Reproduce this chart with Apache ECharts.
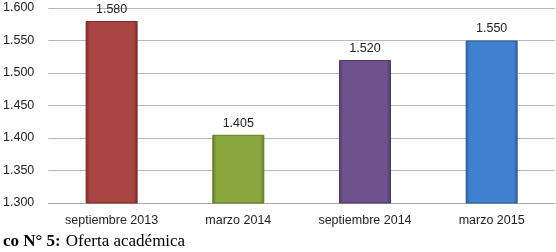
<!DOCTYPE html>
<html>
<head>
<meta charset="utf-8">
<script src="https://cdn.jsdelivr.net/npm/echarts@6/dist/echarts.min.js"></script>
<style>
html, body { margin: 0; padding: 0; background: #fff; }
#chart { width: 556px; height: 252px; }
</style>
</head>
<body>
<div id="chart"></div>
<script>
const categories = ['septiembre 2013', 'marzo 2014', 'septiembre 2014', 'marzo 2015'];
const values = [1580, 1405, 1520, 1550];
const barColors = [
    ['#7e2a28', '#a94442', '#7e2a28'],
    ['#5f7a24', '#8aa63f', '#5f7a24'],
    ['#4f3a68', '#6e528e', '#4f3a68'],
    ['#2a5d9e', '#4082d0', '#2a5d9e']
];

// formato con punto de miles
function fmt(v) {
    return (v / 1000).toFixed(3);
}

let myChart = echarts.init(document.getElementById('chart'));
let option = {
    animation: false,
    title: {
        text: '{b|co N° 5:} {n|Oferta académica}',
        left: -2,
        top: 228,
        textStyle: {
            fontWeight: 'normal',
            rich: {
                b: { fontFamily: 'Liberation Serif', fontSize: 17, fontWeight: 'bold', color: '#000' },
                n: { fontFamily: 'Liberation Serif', fontSize: 17, fontWeight: 'normal', color: '#000' }
            }
        }
    },
    grid: { left: 47, right: 1, top: 8, bottom: 49 },
    xAxis: {
        type: 'category',
        data: categories,
        axisLine: { lineStyle: { color: '#a6a6a6' } },
        axisTick: { length: 5, lineStyle: { color: '#a6a6a6' } },
        axisLabel: { color: '#222', fontFamily: 'Liberation Sans', fontSize: 12.5, margin: 11 }
    },
    yAxis: {
        type: 'value',
        min: 1300,
        max: 1600,
        interval: 50,
        axisLine: { show: false },
        axisTick: { show: false },
        axisLabel: { color: '#222', fontFamily: 'Liberation Sans', fontSize: 12.5, margin: 14, formatter: fmt },
        splitLine: { lineStyle: { color: '#b8b8b8' } }
    },
    series: [{
        type: 'bar',
        barWidth: 52,
        data: values.map((v, i) => ({
            value: v,
            itemStyle: {
                borderColor: barColors[i][0],
                borderWidth: 1,
                color: new echarts.graphic.LinearGradient(0, 0, 1, 0, [
                    { offset: 0, color: barColors[i][0] },
                    { offset: 0.08, color: barColors[i][1] },
                    { offset: 0.92, color: barColors[i][1] },
                    { offset: 1, color: barColors[i][0] }
                ])
            }
        })),
        label: {
            show: true,
            position: 'top',
            distance: 5,
            color: '#222',
            fontFamily: 'Liberation Sans',
            fontSize: 12.5,
            formatter: p => fmt(p.value)
        }
    }]
};
myChart.setOption(option);
</script>
</body>
</html>
